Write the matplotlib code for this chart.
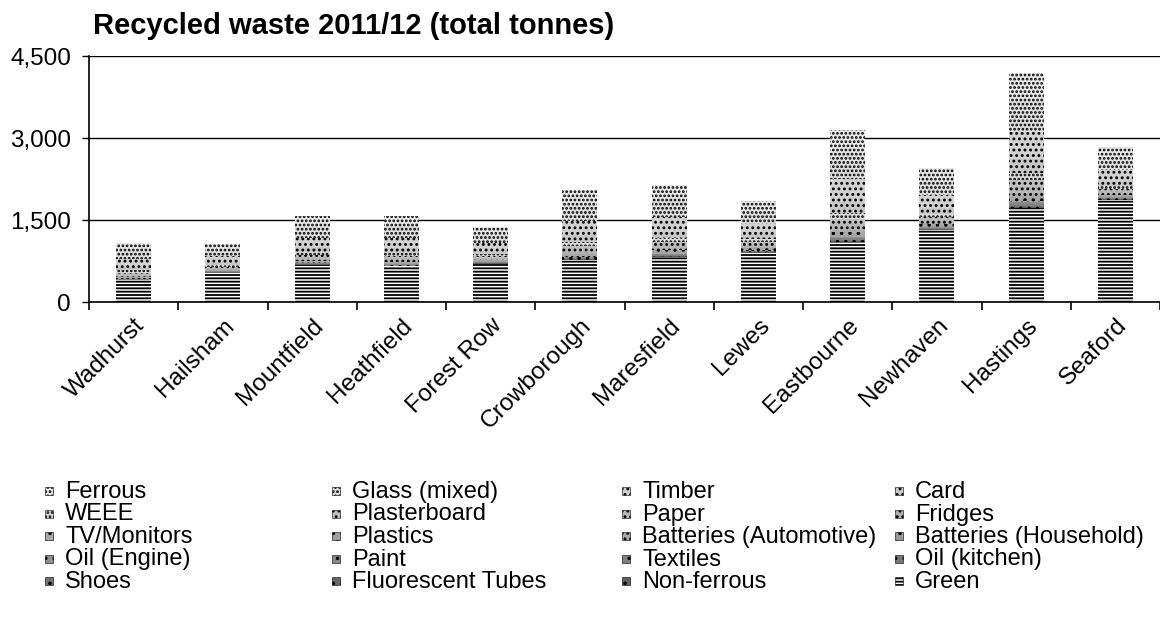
import matplotlib
matplotlib.use("Agg")
import matplotlib.pyplot as plt
from matplotlib.patches import Rectangle
import numpy as np

plt.rcParams['font.family'] = ['Liberation Sans', 'DejaVu Sans']
plt.rcParams['hatch.linewidth'] = 1.3

sites = ["Wadhurst", "Hailsham", "Mountfield", "Heathfield", "Forest Row", "Crowborough",
         "Maresfield", "Lewes", "Eastbourne", "Newhaven", "Hastings", "Seaford"]

# legend order (row-wise)
categories = ["Ferrous", "Glass (mixed)", "Timber", "Card", "WEEE", "Plasterboard", "Paper",
              "Fridges", "TV/Monitors", "Plastics", "Batteries (Automotive)",
              "Batteries (Household)", "Oil (Engine)", "Paint", "Textiles", "Oil (kitchen)",
              "Shoes", "Fluorescent Tubes", "Non-ferrous", "Green"]

ferrous      = [140, 110, 190, 200, 140, 270, 280, 200, 420, 240, 520, 200]
glass        = [150, 115, 200, 210, 150, 290, 300, 215, 470, 260, 560, 220]
timber       = [140, 105, 180, 190, 140, 260, 270, 190, 420, 230, 510, 200]
card         = [65, 50, 85, 90, 65, 125, 125, 90, 200, 110, 240, 95]
weee         = [40, 30, 55, 55, 40, 75, 75, 55, 120, 65, 145, 55]
plasterboard = [30, 25, 40, 40, 30, 55, 55, 40, 90, 50, 110, 45]
paper        = [35, 27, 45, 48, 35, 65, 65, 50, 105, 58, 125, 50]
fridges      = [12, 9, 16, 17, 12, 24, 24, 18, 38, 21, 46, 18]
tv_monitors  = [18, 14, 24, 25, 18, 35, 35, 26, 55, 30, 68, 26]
plastics     = [8, 6, 10, 11, 8, 14, 15, 11, 23, 13, 28, 11]
batt_auto    = [5, 4, 7, 7, 5, 10, 10, 7, 15, 8, 18, 7]
batt_house   = [1, 1, 2, 2, 1, 3, 3, 2, 4, 2, 5, 2]
oil_engine   = [3, 2, 4, 4, 3, 6, 6, 4, 10, 5, 12, 5]
paint        = [4, 3, 5, 5, 4, 7, 7, 5, 12, 6, 14, 6]
textiles     = [12, 9, 15, 16, 12, 22, 22, 16, 36, 20, 44, 17]
oil_kitchen  = [1, 1, 1, 1, 1, 2, 2, 1, 3, 2, 3, 1]
shoes        = [2, 1, 2, 2, 2, 3, 3, 2, 5, 3, 6, 2]
fluorescent  = [0.5, 0.4, 0.6, 0.6, 0.5, 0.9, 0.9, 0.6, 1.4, 0.8, 1.7, 0.6]
non_ferrous  = [6, 5, 8, 8, 6, 11, 11, 8, 18, 10, 22, 9]
green        = [400, 540, 680, 650, 700, 770, 830, 900, 1100, 1320, 1720, 1870]

series = [ferrous, glass, timber, card, weee, plasterboard, paper, fridges, tv_monitors,
          plastics, batt_auto, batt_house, oil_engine, paint, textiles, oil_kitchen,
          shoes, fluorescent, non_ferrous, green]

# grey textures, light -> dark
greys = ["#e8e8e8", "#dedede", "#d2d2d2", "#c8c8c8", "#dadada", "#c0c0c0", "#b8b8b8",
         "#b0b0b0", "#a8a8a8", "#a0a0a0", "#a8a8a8", "#989898", "#909090", "#888888",
         "#808080", "#787878", "#707070", "#686868", "#606060", "white"]
hatches = ["....", "....", "...", "...", "....", "...", "...", "...", "..", "..", "...",
           "..", "..", "..", "..", "..", "..", "..", "..", "-----"]

W, H = 1160, 618
fig = plt.figure(figsize=(W / 100, H / 100), dpi=100)
ax = fig.add_axes([89 / W, 1 - 302 / H, 1 - 89 / W, (302 - 56) / H])

x = np.arange(len(sites))
bottom = np.zeros(len(sites))
# stack: Green at bottom, Ferrous on top
for i in range(len(categories) - 1, -1, -1):
    vals = np.array(series[i], dtype=float)
    ax.bar(x, vals, 0.39, bottom=bottom, color=greys[i], hatch=hatches[i],
           edgecolor="black", linewidth=0)
    bottom += vals

ax.set_xlim(-0.5, len(sites) - 0.5)
ax.set_ylim(0, 4500)
ax.set_yticks([0, 1500, 3000, 4500])
ax.set_yticklabels(["0", "1,500", "3,000", "4,500"], fontsize=17.5)
ax.yaxis.grid(True, color="black", linewidth=1)
ax.set_axisbelow(True)
for s in ["top", "right"]:
    ax.spines[s].set_visible(False)
ax.spines["left"].set_linewidth(1.2)
ax.spines["bottom"].set_linewidth(1.2)
ax.tick_params(axis="y", length=5, width=1, direction="out", pad=8)

ax.set_xticks(x)
ax.set_xticklabels(sites, rotation=45, ha="right", va="top", rotation_mode="anchor",
                   fontsize=17.5)
ax.tick_params(axis="x", length=0, pad=9)
ax.set_xticks(np.arange(len(sites) + 1) - 0.5, minor=True)
ax.tick_params(axis="x", which="minor", length=6, width=1.2, direction="out")

fig.text(93 / W, 1 - 34 / H, "Recycled waste 2011/12 (total tonnes)", fontsize=21,
         fontweight="bold", ha="left", va="baseline")

# legend laid out like the original (4 columns x 5 rows, row-wise)
col_x = [45, 332, 622, 895]
row_base = [498, 520.5, 543, 565.5, 588]
box = 8
for k, name in enumerate(categories):
    r, c = divmod(k, 4)
    bx = col_x[c]
    by = row_base[r] - 3
    fig.patches.append(Rectangle((bx / W, 1 - by / H), box / W, box / H,
                                 transform=fig.transFigure, facecolor=greys[k],
                                 hatch=hatches[k], edgecolor="black", linewidth=0.4))
    fig.text((bx + 20) / W, 1 - row_base[r] / H, name, fontsize=17,
             ha="left", va="baseline")

fig.savefig("out.png", dpi=100)
